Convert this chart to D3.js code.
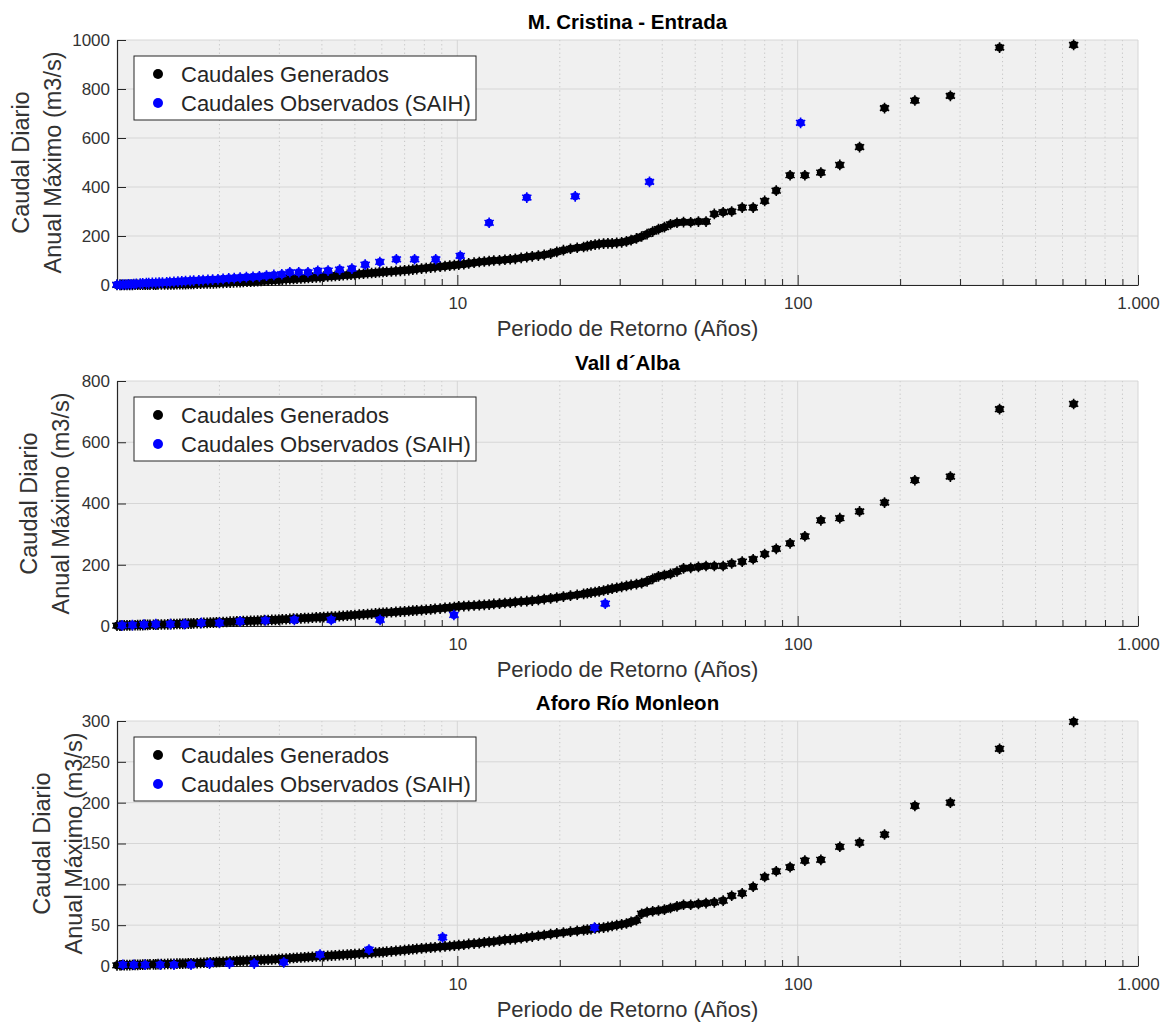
<!DOCTYPE html>
<html><head><meta charset="utf-8">
<script src="https://cdn.jsdelivr.net/npm/d3@7"></script>
<style>
body{margin:0;background:#fff;}
svg{display:block;font-family:"Liberation Sans",Arial,Helvetica,sans-serif;}
</style>
</head><body>
<svg id="chart" width="1162" height="1023"></svg>
<script>
// ---------------- DATA ----------------
// Return periods (years) of the generated series (shared by the three stations)
const periodoGenerado = [
  647, 392, 281, 221, 180, 152, 133, 117, 105, 95,
  86.5, 80, 74, 68.7, 64, 60.4, 56.9, 53.8, 51.1, 48.5,
  46.2, 44.2, 42.3, 40.6, 39.0, 37.5, 36.1, 34.8, 33.6, 32.4,
  31.4, 30.4, 29.4, 28.5, 27.7, 26.9, 26.1, 25.4, 24.7, 24.1,
  23.5, 22.5, 21.5, 20.5, 19.6, 18.8, 18.0, 17.3, 16.6, 16.0,
  15.4, 14.8, 14.3, 13.8, 13.3, 12.8, 12.4, 12.0, 11.6, 11.2,
  10.8, 10.45, 10.1, 9.8, 9.5, 9.2, 8.9, 8.6, 8.35, 8.1,
  7.85, 7.6, 7.4, 7.2, 7.0, 6.8, 6.6, 6.4, 6.2, 6.05,
  5.9, 5.75, 5.6, 5.45, 5.3, 5.15, 5.0, 4.87, 4.75, 4.62,
  4.5, 4.38, 4.27, 4.16, 4.05, 3.95, 3.85, 3.75, 3.65, 3.56,
  3.47, 3.38, 3.3, 3.22, 3.14, 3.06, 2.99, 2.92, 2.85, 2.78,
  2.71, 2.65, 2.59, 2.53, 2.47, 2.41, 2.35, 2.3, 2.25, 2.2,
  2.15, 2.1, 2.05, 2.0, 1.96, 1.92, 1.88, 1.84, 1.8, 1.76,
  1.72, 1.68, 1.65, 1.62, 1.59, 1.56, 1.53, 1.5, 1.47, 1.44,
  1.41, 1.38, 1.35, 1.32, 1.3, 1.28, 1.25, 1.23, 1.21, 1.19,
  1.17, 1.15, 1.13, 1.11, 1.09, 1.07, 1.05, 1.03, 1.02, 1.0
];
const caudalGenCristina = [
  980, 969, 772, 753, 722, 563, 490, 459, 448, 448,
  385, 343, 316, 316, 300, 297, 290, 259, 259, 256,
  257, 254, 248, 236, 228, 218, 208, 198, 190, 183,
  178, 174, 172, 170, 170, 169, 167, 165, 162, 159,
  155, 152, 148, 142, 135, 128, 123, 120, 117, 114,
  111, 107, 105, 103, 101, 100, 98, 96, 94, 91,
  88, 85, 83, 81, 79, 77, 75, 73, 71, 69,
  67, 65, 63, 61, 60, 58, 57, 55, 54, 53,
  52, 50, 49, 48, 46, 45, 43, 42, 41, 40,
  38, 37, 36, 35, 34, 32, 31, 30, 29, 28,
  27, 26, 25, 24, 23, 22, 21, 20, 19, 18,
  17.5, 17, 16, 15, 14, 13.5, 13, 12, 11.5, 11,
  10, 9.5, 9, 8.5, 8, 7, 7, 6.5, 6, 5.5,
  5, 4.5, 4, 4, 3.5, 3, 3, 3, 2.5, 2.5,
  2, 2, 2, 2, 1.5, 1.5, 1.5, 1, 1, 1,
  1, 1, 1, 0.5, 0.5, 0.5, 0.5, 0.5, 0.3, 0.2
];
const caudalGenVall = [
  725, 708, 488, 476, 403, 374, 352, 345, 293, 270,
  252, 235, 218, 210, 204, 196, 196, 196, 193, 190,
  188, 178, 170, 166, 162, 154, 146, 140, 137, 134,
  131, 128, 125, 122, 119, 116, 113, 111, 109, 107,
  105, 102, 99, 96, 93, 90, 88, 85, 83, 81,
  80, 78, 76, 75, 73, 72, 70, 69, 68, 67,
  66, 65, 64, 62, 60, 59, 57, 56, 54, 53,
  52, 51, 50, 49, 48, 47, 46, 45, 44, 43,
  42, 41, 40, 39, 38, 37, 36, 35, 34, 33,
  32, 31, 31, 30, 29, 28, 28, 27, 26, 26,
  25, 24, 24, 23, 22, 22, 21, 20, 20, 19,
  19, 18, 18, 17, 17, 16, 16, 15, 15, 14,
  14, 13, 13, 12, 12, 11, 11, 10, 10, 9,
  9, 8.5, 8, 8, 7.5, 7, 7, 6.5, 6, 6,
  5.5, 5, 5, 4.5, 4.5, 4, 4, 3.5, 3.5, 3,
  3, 3, 2.5, 2.5, 2, 2, 2, 1.5, 1.5, 1
];
const caudalGenMonleon = [
  299, 266, 200, 196, 161, 151, 146, 130, 129, 121,
  116, 109, 97, 89, 86, 80, 78, 77, 76, 75,
  75, 73, 71, 69, 68, 67, 66, 64, 56, 54,
  52, 51, 50, 49, 48, 47, 46.5, 46, 45, 44.5,
  44, 43, 42, 41, 40, 39, 38, 37, 36, 35,
  34, 33, 32.5, 32, 31, 30, 29.5, 29, 28, 27.5,
  27, 26, 25.5, 25, 24.5, 24, 23.5, 23, 22.5, 22,
  21.5, 21, 20.5, 20, 19.5, 19, 18.5, 18, 17.5, 17,
  16.8, 16.5, 16, 15.7, 15.4, 15, 14.6, 14.3, 14, 13.7,
  13.4, 13.1, 12.8, 12.5, 12.2, 11.9, 11.6, 11.3, 11, 10.7,
  10.4, 10.1, 9.8, 9.5, 9.2, 8.9, 8.6, 8.3, 8, 7.8,
  7.6, 7.4, 7.2, 7, 6.8, 6.6, 6.4, 6.2, 6, 5.8,
  5.6, 5.4, 5.2, 5, 4.8, 4.6, 4.4, 4.2, 4, 3.8,
  3.6, 3.4, 3.3, 3.2, 3.1, 3, 2.9, 2.8, 2.7, 2.6,
  2.5, 2.4, 2.3, 2.2, 2.1, 2, 1.9, 1.8, 1.7, 1.6,
  1.5, 1.4, 1.3, 1.2, 1.1, 1, 1, 0.9, 0.9, 0.8
];

const periodoObsCristina = [
  102, 36.7, 22.2, 16.0, 12.4, 10.2, 8.64, 7.49, 6.62, 5.92,
  5.36, 4.90, 4.51, 4.17, 3.89, 3.64, 3.42, 3.22, 3.05, 2.89,
  2.75, 2.62, 2.51, 2.40, 2.30, 2.21, 2.13, 2.05, 1.98, 1.91,
  1.85, 1.79, 1.74, 1.68, 1.64, 1.59, 1.55, 1.51, 1.47, 1.43,
  1.40, 1.36, 1.33, 1.30, 1.27, 1.24, 1.22, 1.19, 1.17, 1.14,
  1.12, 1.10, 1.08, 1.06, 1.04, 1.02, 1.00
];
const caudalObsCristina = [
  662, 421, 362, 357, 254, 119, 105, 105, 105, 94,
  83, 67, 63, 59, 58, 52, 52, 52, 44, 41,
  38, 35, 33, 32, 30, 28, 27, 25, 23, 22,
  21, 20, 19, 18, 17, 16, 15, 14, 13, 12,
  11, 10, 10, 9, 9, 8, 8, 7, 6, 5,
  4, 3, 3, 2, 2, 1, 1
];
const periodoObsVall = [27.2, 9.77, 5.93, 4.26, 3.32, 2.73, 2.3, 2.0, 1.77, 1.58, 1.435, 1.30, 1.20, 1.11, 1.035];
const caudalObsVall  = [73, 36, 20, 20, 20, 18, 15, 10, 10, 6, 6, 6, 5, 3, 2];
const periodoObsMonleon = [25.3, 9.05, 5.5, 3.95, 3.09, 2.53, 2.14, 1.87, 1.65, 1.47, 1.34, 1.21, 1.12, 1.04];
const caudalObsMonleon  = [47, 35, 20, 14, 4.5, 3, 3, 3, 1.5, 1.5, 1.5, 1.5, 1.5, 1.5];

const titulos = ["M. Cristina - Entrada", "Vall d\u00B4Alba", "Aforo R\u00EDo Monleon"];
const yTicksCristina = [0, 200, 400, 600, 800, 1000];
const yTicksVall = [0, 200, 400, 600, 800];
const yTicksMonleon = [0, 50, 100, 150, 200, 250, 300];
const xTickValues = [10, 100, 1000];
const xTickLabels = ["10", "100", "1.000"];
const legendLabels = ["Caudales Generados", "Caudales Observados (SAIH)"];
const xLabel = "Periodo de Retorno (A\u00F1os)";
const yLabelLines = ["Caudal Diario", "Anual M\u00E1ximo (m3/s)"];

// ---------------- LAYOUT ----------------
const svg = d3.select("#chart");
const X0 = 117, X1 = 1138;
const axisColor = "#262626";
const colGen = "#000000", colObs = "#0000ff";

const panels = [
  {top: 40,  bottom: 285, ticks: yTicksCristina, gen: caudalGenCristina, obsT: periodoObsCristina, obsQ: caudalObsCristina, yl: [29, 61]},
  {top: 381, bottom: 626, ticks: yTicksVall,     gen: caudalGenVall,     obsT: periodoObsVall,     obsQ: caudalObsVall,     yl: [37, 69]},
  {top: 721, bottom: 966, ticks: yTicksMonleon,  gen: caudalGenMonleon,  obsT: periodoObsMonleon,  obsQ: caudalObsMonleon,  yl: [50, 82]}
];

const x = d3.scaleLog().domain([1, 1000]).range([X0, X1]);
const minorTicks = x.ticks().filter(v => xTickValues.indexOf(v) < 0 && v !== 1);

const circleSym = d3.symbol().type(d3.symbolCircle).size(52);
const starSym = d3.symbol().type(d3.symbolAsterisk).size(80);

function drawMarkers(g, xs, ys, y, color) {
  const data = xs.map((t, i) => [t, ys[i]]);
  const m = g.append("g").selectAll("g").data(data).join("g")
    .attr("transform", d => `translate(${x(d[0])},${y(d[1])})`);
  m.append("path").attr("d", circleSym()).attr("fill", color);
  m.append("path").attr("d", starSym()).attr("fill", "none").attr("stroke", color).attr("stroke-width", 1.6);
}

panels.forEach((p, i) => {
  const yMax = p.ticks[p.ticks.length - 1];
  const y = d3.scaleLinear().domain([0, yMax]).range([p.bottom, p.top]);
  const g = svg.append("g");

  // background
  g.append("rect").attr("x", X0).attr("y", p.top).attr("width", X1 - X0).attr("height", p.bottom - p.top)
    .attr("fill", "#f0f0f0");

  // minor x grid (dotted)
  g.append("g").selectAll("line").data(minorTicks).join("line")
    .attr("x1", d => x(d)).attr("x2", d => x(d)).attr("y1", p.top).attr("y2", p.bottom)
    .attr("stroke", "#c4c4c4").attr("stroke-width", 1).attr("stroke-dasharray", "1.2,3");
  // major x grid
  g.append("g").selectAll("line").data(xTickValues).join("line")
    .attr("x1", d => x(d)).attr("x2", d => x(d)).attr("y1", p.top).attr("y2", p.bottom)
    .attr("stroke", "#d6d6d6").attr("stroke-width", 1);
  // major y grid
  g.append("g").selectAll("line").data(p.ticks).join("line")
    .attr("x1", X0).attr("x2", X1).attr("y1", d => y(d)).attr("y2", d => y(d))
    .attr("stroke", "#d6d6d6").attr("stroke-width", 1);

  // axes
  const yAxis = d3.axisLeft(y).tickValues(p.ticks).tickSize(-9).tickSizeOuter(0).tickPadding(7)
    .tickFormat(d3.format("d"));
  const ga = g.append("g").attr("transform", `translate(${X0},0)`).call(yAxis);
  ga.select(".domain").attr("stroke", axisColor).attr("stroke-width", 1.2);
  ga.selectAll(".tick line").attr("stroke", axisColor);
  ga.selectAll("text").attr("fill", "#333").attr("font-size", 17).attr("font-family", "Liberation Sans, Arial, sans-serif");

  const xAxisMinor = d3.axisBottom(x).tickValues(minorTicks).tickSize(-6).tickSizeOuter(0).tickFormat("");
  const gm = g.append("g").attr("transform", `translate(0,${p.bottom})`).call(xAxisMinor);
  gm.select(".domain").remove();
  gm.selectAll(".tick line").attr("stroke", axisColor);

  const xAxis = d3.axisBottom(x).tickValues(xTickValues).tickSize(-10).tickSizeOuter(0).tickPadding(12)
    .tickFormat((d, k) => xTickLabels[k]);
  const gx = g.append("g").attr("transform", `translate(0,${p.bottom})`).call(xAxis);
  gx.select(".domain").attr("stroke", axisColor).attr("stroke-width", 1.2);
  gx.selectAll(".tick line").attr("stroke", axisColor);
  gx.selectAll("text").attr("fill", "#333").attr("font-size", 17).attr("font-family", "Liberation Sans, Arial, sans-serif");

  // data
  drawMarkers(g, periodoGenerado, p.gen, y, colGen);
  drawMarkers(g, p.obsT, p.obsQ, y, colObs);

  // title
  g.append("text").attr("x", (X0 + X1) / 2).attr("y", p.top - 11).attr("text-anchor", "middle")
    .attr("font-size", 20.5).attr("font-weight", "bold").attr("fill", "#000").text(titulos[i]);

  // x label
  g.append("text").attr("x", (X0 + X1) / 2).attr("y", p.bottom + 51).attr("text-anchor", "middle")
    .attr("font-size", 22).attr("fill", "#333").text(xLabel);

  // y label (two lines)
  const yc = (p.top + p.bottom) / 2;
  yLabelLines.forEach((t, k) => {
    g.append("text").attr("transform", `translate(${p.yl[k]},${yc}) rotate(-90)`)
      .attr("text-anchor", "middle").attr("font-size", 23.5).attr("fill", "#333").text(t);
  });

  // legend
  const lx = X0 + 17, ly = p.top + 16;
  const lg = g.append("g").attr("transform", `translate(${lx},${ly})`);
  lg.append("rect").attr("width", 342).attr("height", 64).attr("fill", "#fff")
    .attr("stroke", axisColor).attr("stroke-width", 1);
  [colGen, colObs].forEach((c, k) => {
    const ry = 18 + k * 29;
    lg.append("circle").attr("cx", 24).attr("cy", ry).attr("r", 5).attr("fill", c);
    lg.append("text").attr("x", 47).attr("y", ry + 8).attr("font-size", 22).attr("fill", "#262626")
      .text(legendLabels[k]);
  });
});
</script>
</body></html>
